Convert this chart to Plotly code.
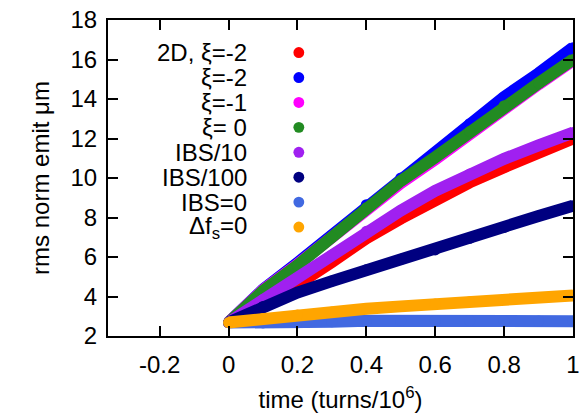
import plotly.graph_objects as go

# time in units of 10^6 turns
time = [0.0, 0.1, 0.2, 0.3, 0.4, 0.5, 0.6, 0.7, 0.8, 0.9, 1.0]

# rms normalised emittance (um) for each case
emit_2d_xi_m2 = [2.68, 3.65, 4.60, 5.75, 6.95, 7.95, 8.92, 9.78, 10.55, 11.30, 12.00]
emit_xi_m2 = [2.68, 4.35, 5.70, 7.10, 8.65, 10.00, 11.30, 12.75, 14.10, 15.30, 16.60]
emit_xi_m1 = [2.68, 4.32, 5.62, 7.00, 8.40, 9.75, 10.95, 12.25, 13.55, 14.75, 15.95]
emit_xi_0 = [2.68, 4.28, 5.58, 7.00, 8.50, 9.85, 11.05, 12.35, 13.66, 14.80, 16.00]
emit_ibs10 = [2.68, 3.85, 4.95, 6.10, 7.30, 8.35, 9.35, 10.20, 10.97, 11.65, 12.30]
emit_ibs100 = [2.68, 3.50, 4.20, 4.78, 5.35, 5.88, 6.36, 6.95, 7.50, 8.08, 8.60]
emit_ibs0 = [2.68, 2.66, 2.67, 2.72, 2.77, 2.78, 2.79, 2.78, 2.77, 2.76, 2.75]
emit_dfs0 = [2.68, 2.88, 3.06, 3.22, 3.38, 3.50, 3.62, 3.74, 3.85, 3.95, 4.05]

labels = ["2D, ξ=-2", "ξ=-2", "ξ=-1", "ξ= 0", "IBS/10", "IBS/100", "IBS=0",
          "Δf<sub>s</sub>=0"]
colors = ["#ff0000", "#0000ff", "#ff00ff", "#228b22", "#a020f0", "#000080",
          "#4169e1", "#ffa500"]
series = [emit_2d_xi_m2, emit_xi_m2, emit_xi_m1, emit_xi_0, emit_ibs10,
          emit_ibs100, emit_ibs0, emit_dfs0]

x_ticks = [-0.2, 0, 0.2, 0.4, 0.6, 0.8, 1]
x_tick_text = ["-0.2", "0", "0.2", "0.4", "0.6", "0.8", "1"]
y_ticks = [2, 4, 6, 8, 10, 12, 14, 16, 18]

FONT = "Liberation Sans, Arial, Helvetica, sans-serif"
FS = 24
W, H = 586, 416
L, R, T, B = 108, 6, 19, 80

fig = go.Figure()
for ys, c in zip(series, colors):
    fig.add_trace(go.Scatter(
        x=time, y=ys, mode="lines+markers",
        line=dict(color=c, width=12),
        marker=dict(color=c, size=11, line=dict(width=0)),
        showlegend=False, hoverinfo="skip",
    ))

# key: right-aligned label followed by a dot, gnuplot style
annotations = []
shapes = []
pw, ph = W - L - R, H - T - B
for i, (lab, c) in enumerate(zip(labels, colors)):
    ypx = 51.7 + 25.0 * i
    yp = 1 - (ypx - T) / ph
    annotations.append(dict(
        xref="paper", yref="paper", x=(251 - L) / pw, y=yp,
        xanchor="right", yanchor="middle", text=lab, showarrow=False,
        font=dict(family=FONT, size=FS, color="black"),
    ))
    cx = (301.7 - L) / pw
    rx, ry = 5.5 / pw, 5.5 / ph
    shapes.append(dict(
        type="circle", xref="paper", yref="paper",
        x0=cx - rx, x1=cx + rx, y0=yp - ry, y1=yp + ry,
        fillcolor=c, line=dict(width=0),
    ))

axis_common = dict(
    showgrid=False, zeroline=False, showline=True, linecolor="black",
    linewidth=2, mirror="ticks", ticks="inside", ticklen=10, tickwidth=1.5,
    tickcolor="black", tickfont=dict(family=FONT, size=FS, color="black"),
)

fig.update_layout(
    width=W, height=H,
    margin=dict(l=L, r=R, t=T, b=B),
    paper_bgcolor="white", plot_bgcolor="white",
    xaxis=dict(range=[-0.35, 1.0], tickvals=x_ticks, ticktext=x_tick_text,
               ticklabelstandoff=6,
               title=dict(text="time (turns/10<sup>6</sup>)",
                          font=dict(family=FONT, size=FS, color="black"),
                          standoff=14),
               **axis_common),
    yaxis=dict(range=[2, 18], tickvals=y_ticks, ticklabelstandoff=4,
               title=dict(text="rms norm emit μm",
                          font=dict(family=FONT, size=FS, color="black"),
                          standoff=14),
               **axis_common),
    annotations=annotations, shapes=shapes,
)

fig.write_html("out.html")
